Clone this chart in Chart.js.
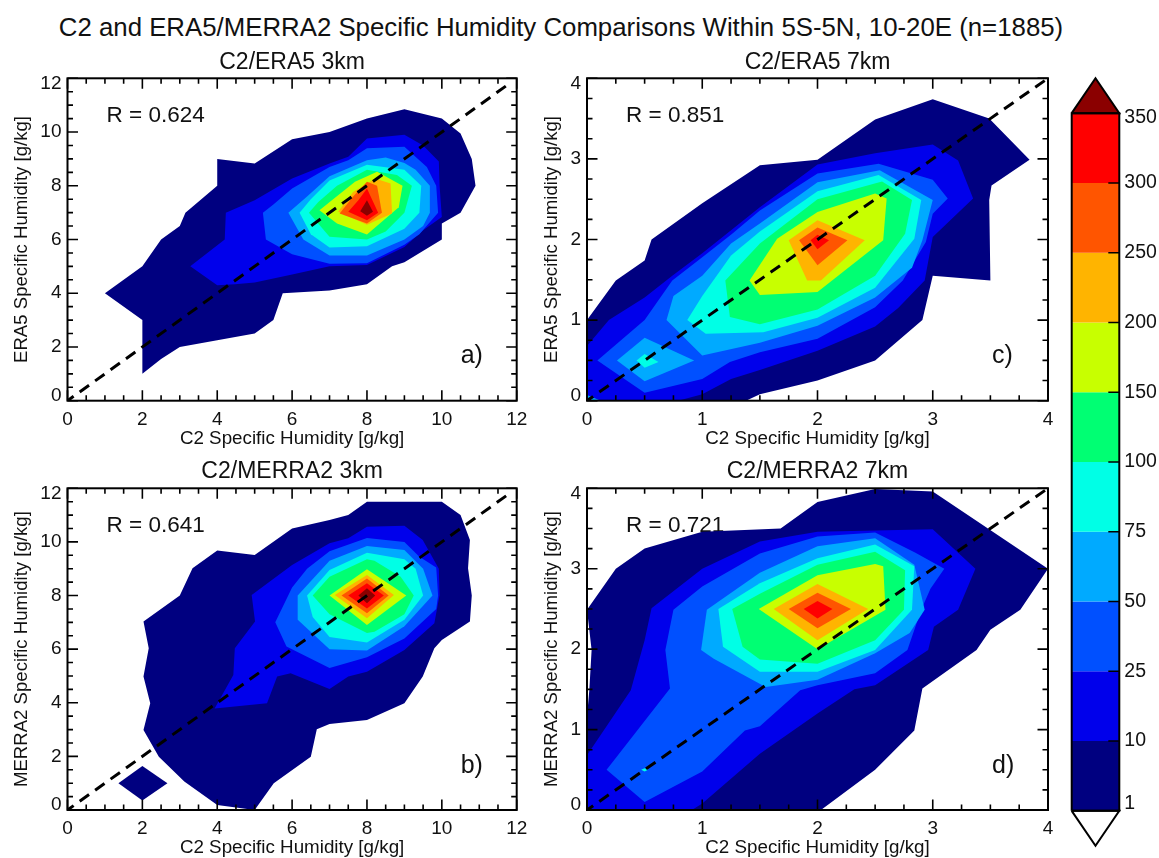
<!DOCTYPE html>
<html><head><meta charset="utf-8">
<style>
html,body{margin:0;padding:0;background:#fff;width:1159px;height:858px;overflow:hidden}
canvas{position:absolute;filter:blur(0.4px)}
#main{position:absolute;left:0;top:13px;width:1122px;text-align:center;font:25.8px "Liberation Sans",sans-serif;color:#111;white-space:nowrap}
</style>
<script src="https://cdn.jsdelivr.net/npm/chart.js@4/dist/chart.umd.min.js"></script>
</head><body>
<div id="main">C2 and ERA5/MERRA2 Specific Humidity Comparisons Within 5S-5N, 10-20E (n=1885)</div>
<canvas id="pa" width="530" height="400" style="left:0;top:50px"></canvas>
<canvas id="pc" width="530" height="400" style="left:530px;top:50px"></canvas>
<canvas id="pb" width="530" height="400" style="left:0;top:460px"></canvas>
<canvas id="pd" width="530" height="400" style="left:530px;top:460px"></canvas>
<canvas id="cb" width="99" height="798" style="left:1060px;top:60px"></canvas>
<script>
// ---------- legend levels ----------
const levels = [1,10,25,50,75,100,150,200,250,300,350];
const levelColors = ['#000080','#0000eb','#0050ff','#00aaff','#00ffe6','#00ff73','#c8ff00','#ffb400','#ff5500','#ff0000','#8b0000'];

// ---------- panel a: C2/ERA5 3km (contour outlines, g/kg) ----------
const a1=[[1,4],[2,5],[2.5,6],[3,6.5],[3.15,7],[4,8],[4,9],[5,8.83],[6,9.73],[7,10],[8,10.5],[9,10.85],[10,10.5],[10.5,9.95],[10.8,9],[10.9,8],[10.5,7],[10,6.6],[10,6],[9,5.15],[8.67,5],[8,4.33],[7,4.1],[5.75,4],[5.5,3],[5,2.5],[4,2.25],[3,2],[2.5,1.55],[2,1],[2,3]];
const a2=[[3.28,5],[4.2,6],[4.23,7],[5,7.46],[6,8.27],[7,8.83],[7.5,9.08],[8,9.76],[9,9.9],[9.5,9.5],[9.92,8.9],[9.94,8],[10,6.84],[9.5,6.34],[9,5.72],[8,5.05],[7,5],[6,4.7],[5,4.4],[4.47,4.33],[4,4.3]];
const a3=[[5.22,7],[5.3,6],[6,5.45],[7,5.1],[8,5.12],[9,5.8],[9.4,6.2],[9.9,7],[9.85,8],[9.6,8.7],[9,9.45],[8,9.4],[7.5,8.95],[7,8.7],[6,7.9],[5.5,7.3]];
const a4=[[5.9,7],[6.3,6],[7,5.4],[8,5.4],[9,6],[9.5,6.5],[9.68,7],[9.68,8],[9.3,8.6],[9,8.85],[8.5,9.05],[8,8.95],[7,8.35],[6.4,7.6]];
const a5=[[6.2,7],[6.5,6.2],[7,5.7],[8,5.75],[9,6.4],[9.4,7],[9.45,8],[9,8.6],[8,8.78],[7,8.2],[6.5,7.5]];
const a6=[[6.45,7],[7,6.1],[8,6.0],[8.5,6.3],[9,7],[9.2,8],[8.8,8.4],[8,8.6],[7.2,8],[6.7,7.4]];
const a7=[[6.73,7.09],[7.2,6.6],[8,6.19],[8.85,7.2],[8.95,8],[8.27,8.52],[7.68,8.15]];
const a8=[[7.23,7.03],[8,6.55],[8.67,6.97],[8.63,8.08],[8.22,8.27],[7.63,7.77]];
const a9=[[7.27,6.97],[8,6.6],[8.4,7],[8.27,8],[8,8.15],[7.63,7.6]];
const a10=[[7.5,7.03],[8,6.72],[8.3,7],[8,7.9],[7.77,7.46]];
const a11=[[7.82,7.05],[8,6.88],[8.16,7.03],[8,7.46]];

// ---------- panel b: C2/MERRA2 3km ----------
const b1=[[2.03,7.03],[3,8],[3.34,9.02],[4,9.68],[5,9.51],[6,10.5],[7,10.82],[7.5,11],[8,11.5],[10,11.5],[10.5,11],[10.75,10.07],[10.7,9.02],[10.8,8],[10.75,7.03],[10,6.34],[9.8,6.03],[9.49,4.98],[9,3.98],[8,3.36],[7,3.21],[6.66,3.01],[6.5,1.99],[5.51,1],[5,0],[4,0.19],[3.12,1.06],[2.44,1.99],[2.03,2.98],[2.21,3.98],[2.03,4.98],[2.17,6.03]];
const b1b=[[1.36,1],[2,1.64],[2.67,1],[2,0.35]];
const b2=[[3.93,3.79],[5.33,3.98],[5.6,4.98],[5.96,5.1],[7,4.51],[7.5,4.98],[8,5.16],[9,5.97],[9.8,6.97],[9.94,8.02],[9.92,9],[9.49,10.07],[9,10.6],[8,10.57],[7.5,10.14],[7,9.95],[6,9.14],[4.92,8.02],[5.01,7.03],[4.47,6.03],[4.43,5.04]];
const b3=[[5.55,7],[5.85,6.1],[7,5.3],[8,5.7],[9,6.4],[9.85,7.5],[9.9,8],[9.85,9.05],[9.4,9.45],[9,10],[8,10.15],[7,9.65],[6.4,9],[6,8.3]];
const b4=[[6.15,8],[6.15,7.1],[7,6],[8,5.95],[9,6.85],[9.75,8],[9.5,9],[9,9.7],[8,9.85],[7,9.3]];
const b5=[[6.4,8],[6.55,7.2],[7,6.45],[8,6.25],[9,7.1],[9.5,8],[9.3,9],[9,9.35],[8,9.6],[7,8.95]];
const b6=[[6.55,8],[7,7.3],[8,6.6],[8.2,6.65],[9,7.3],[9.25,8],[8.9,8.7],[8.2,9.3],[8,9.35],[7,8.7]];
const b7=[[7,8],[8,8.98],[9.05,8],[8,6.9]];
const b8=[[7.14,8.02],[8,8.77],[8.72,8.02],[8,7.15]];
const b9=[[7.32,8],[8,8.64],[8.58,8],[8,7.34]];
const b10=[[7.5,8],[8,8.46],[8.45,8],[8,7.52]];
const b11=[[7.77,8],[8,8.27],[8.22,8],[8,7.71]];

// ---------- panel c: C2/ERA5 7km ----------
const c1=[[0,1],[0.25,1.49],[0.5,1.74],[0.56,2],[1,2.45],[1.5,2.92],[2,2.99],[2.5,3.49],[3,3.74],[3.49,3.5],[3.84,2.99],[3.51,2.67],[3.49,2.49],[3.5,1.49],[3,1.55],[2.91,1],[2.5,0.5],[2,0.25],[1.5,0.08],[1.38,0],[0,0]];
const c2=[[0,0.68],[0.19,1],[0.5,1.28],[0.74,1.55],[1,1.83],[1.5,2.4],[2,2.93],[2.5,3.07],[3,3.18],[3.22,2.98],[3.35,2.51],[3,2.03],[2.93,1.49],[2.7,1.15],[2.5,0.92],[2,0.62],[1.5,0.38],[1.25,0.27],[1,0.08],[0.79,0],[0,0]];
const c3=[[0.09,0.5],[0.5,1],[0.74,1.49],[1,1.78],[1.26,2.07],[1.5,2.36],[2,2.82],[2.53,2.94],[3,2.74],[3.13,2.51],[3,2.32],[2.94,1.97],[2.74,1.49],[2.5,1.16],[2,0.77],[1.5,0.6],[1.24,0.48],[1,0.27],[0.5,0.1]];
const c3b=[[0,0],[0,0.07],[0.12,0]];
const c4=[[0.69,1],[1,0.56],[1.5,0.72],[2,0.93],[2.5,1.28],[2.82,1.65],[2.91,1.99],[3,2.49],[2.54,2.86],[2,2.71],[1.5,2.2],[1.25,1.95],[1,1.55],[0.75,1.3]];
const c4b=[[0.26,0.5],[0.5,0.78],[0.93,0.5],[0.5,0.24]];
const c5=[[0.87,1],[1.03,0.83],[1.53,0.85],[2,1.03],[2.5,1.4],[2.84,2.01],[2.9,2.49],[2.53,2.8],[2,2.6],[1.5,2.1],[1.25,1.8],[1,1.3]];
const c5b=[[0.43,0.5],[0.5,0.58],[0.62,0.48],[0.5,0.41]];
const c6=[[1.2,1.49],[1.24,1.04],[1.5,0.95],[2,1.13],[2.5,1.55],[2.76,2.07],[2.82,2.49],[2.56,2.72],[2,2.5],[1.5,1.95]];
const c7=[[1.41,1.49],[1.5,1.31],[2,1.35],[2.57,1.99],[2.6,2.51],[2.5,2.57],[2,2.34],[1.65,2.01]];
const c8=[[1.75,1.99],[1.91,1.49],[2.03,1.49],[2.41,1.99],[2,2.24]];
const c9=[[1.84,1.99],[2,1.68],[2.26,1.99],[2,2.15]];
const c10=[[1.94,1.99],[2,1.88],[2.1,1.99],[2,2.06]];

// ---------- panel d: C2/MERRA2 7km ----------
const d1=[[0,2.49],[0.25,3],[0.5,3.25],[1,3.46],[1.68,3.5],[2,3.83],[2.5,3.99],[3,3.96],[4,3],[3.76,2.49],[3.5,2.24],[3.38,1.99],[2.91,1.51],[2.84,0.99],[2.5,0.5],[2.03,0],[0,0],[0,1.16],[0.02,1.49],[0.04,1.99]];
const d2=[[0,0.68],[0.38,1.49],[0.5,2.11],[0.56,2.51],[1,3],[1.5,3.34],[2,3.46],[3,3.49],[3.37,3],[3.22,2.49],[3.01,2.28],[2.96,1.99],[2.5,1.55],[2.32,1.5],[2,1.2],[1.5,0.7],[1,0.08],[0.91,0],[0,0]];
const d3=[[0.17,0.5],[0.72,1.51],[0.68,1.99],[0.75,2.49],[1,2.78],[1.5,3.19],[2,3.4],[2.5,3.45],[2.85,3.2],[3.1,3],[2.98,2.75],[2.9,2.49],[2.78,1.99],[2.5,1.7],[2,1.55],[1.85,1.49],[1.5,1.04],[1.37,0.99],[1,0.48],[0.5,0.1]];
const d4=[[0.99,1.99],[1.04,2.49],[1.5,2.95],[2,3.28],[2.5,3.38],[2.84,3.05],[2.93,2.49],[2.8,2.2],[2.5,1.95],[2,1.62],[1.55,1.53],[1.1,1.88]];
const d5=[[1.14,2.5],[1.18,2.03],[1.5,1.72],[2,1.72],[2.5,1.99],[2.82,2.49],[2.84,3.03],[2.5,3.3],[2,3.13],[1.5,2.82]];
const d5b=[[0.47,0.5],[0.5,0.52],[0.53,0.5],[0.5,0.48]];
const d6=[[1.26,2.5],[1.35,2.03],[1.5,1.87],[2,1.82],[2.5,2.11],[2.75,2.49],[2.76,2.98],[2.5,3.21],[2,3.05],[1.5,2.69]];
const d7=[[1.49,2.5],[2,2],[2.59,2.49],[2.57,3.03],[2.5,3.06],[2,2.92]];
const d8=[[1.62,2.5],[2,2.11],[2.44,2.5],[2,2.81]];
const d9=[[1.75,2.5],[2,2.26],[2.29,2.5],[2,2.7]];
const d10=[[1.88,2.5],[2,2.38],[2.13,2.5],[2,2.6]];

// ---------- axis values ----------
const ticks3km=[0,2,4,6,8,10,12];
const ticks7km=[0,1,2,3,4];
const diagonal3km=[[0,0],[11.75,11.75]];
const diagonal7km=[[0,0],[4,4]];

const FONT='"Liberation Sans", sans-serif';
const INK='#111';

// fills each closed contour outline using the points the scales have placed
const contourFill={id:'contourFill',beforeDatasetDraw(chart,args){
  const ds=chart.data.datasets[args.index];
  if(!ds.fillColor)return;
  const c=chart.ctx,p=args.meta.data;
  c.save();c.beginPath();
  p.forEach((e,i)=>i?c.lineTo(e.x,e.y):c.moveTo(e.x,e.y));
  c.closePath();c.fillStyle=ds.fillColor;c.fill();c.restore();
}};

// IDL-style frame with inward major and minor ticks, and the panel annotations
const panelDecor={id:'panelDecor',
 beforeDatasetsDraw(chart,_,o){
  if(!o.rText)return;
  const c=chart.ctx,a=chart.chartArea;
  c.save();c.fillStyle=INK;c.textBaseline='alphabetic';c.textAlign='left';
  c.font='22.5px '+FONT;c.fillText(o.rText,a.left+39,a.top+44);c.restore();
 },
 afterDraw(chart,_,o){
  if(!o.major)return;
  const c=chart.ctx,a=chart.chartArea,sx=chart.scales.x,sy=chart.scales.y;
  c.save();c.strokeStyle='#000';
  const mk=(list,len)=>{c.beginPath();
   list.forEach(v=>{const X=sx.getPixelForValue(v),Y=sy.getPixelForValue(v);
    c.moveTo(X,a.bottom);c.lineTo(X,a.bottom-len);c.moveTo(X,a.top);c.lineTo(X,a.top+len);
    c.moveTo(a.left,Y);c.lineTo(a.left+len,Y);c.moveTo(a.right,Y);c.lineTo(a.right-len,Y);});
   c.stroke();};
  c.lineWidth=1.6;mk(o.major,10.5);
  const minors=[];for(let k=0;k<=o.minorCount;k++)minors.push(k*o.minorStep);
  mk(minors.filter(v=>!o.major.includes(v)),5.5);
  c.lineWidth=2;c.strokeRect(a.left,a.top,a.right-a.left,a.bottom-a.top);
  c.fillStyle=INK;c.textAlign='left';c.textBaseline='alphabetic';c.font='25px '+FONT;
  c.fillText(o.tag,a.right-56,a.top+285);
  c.restore();
 }};

function panel(id,title,yTitle,groups,diag,tickVals,o){
  const max=tickVals[tickVals.length-1];
  const datasets=[];
  groups.forEach((g,i)=>datasets.push({data:g[0].map(p=>({x:p[0],y:p[1]})),showLine:true,borderWidth:0,pointRadius:0,fillColor:levelColors[g[1]],order:1000-i}));
  datasets.push({data:diag.map(p=>({x:p[0],y:p[1]})),showLine:true,borderColor:'#000',borderWidth:3,borderDash:[11.5,7.5],borderDashOffset:4,pointRadius:0,order:0});
  const shift=max*5/321.5;
  new Chart(document.getElementById(id),{type:'scatter',plugins:[contourFill,panelDecor],data:{datasets},options:{
    responsive:false,animation:false,events:[],
    layout:{padding:{left:0,right:o.rightPad,top:0,bottom:0}},
    plugins:{legend:{display:false},tooltip:{enabled:false},
      title:{display:true,text:title,fullSize:false,color:INK,font:{family:FONT,size:23,weight:'normal',lineHeight:1.05},padding:{top:o.titleTop,bottom:28.3-24.15-o.titleTop}},
      panelDecor:{rText:o.r,tag:o.tag,major:tickVals,minorStep:max===12?0.5:0.25,minorCount:max===12?24:16}},
    scales:{
      x:{type:'linear',min:0,max,grid:{display:false,drawTicks:false},border:{display:false},
         ticks:{autoSkip:false,maxRotation:0,color:INK,font:{family:FONT,size:19},padding:7.5},
         afterBuildTicks:s=>{s.ticks=tickVals.map(v=>({value:v}));},
         afterFit:s=>{s.height=o.xHeight;s.paddingLeft=0;s.paddingRight=0;},
         title:{display:true,text:'C2 Specific Humidity [g/kg]',color:INK,font:{family:FONT,size:18.8,lineHeight:1.1},padding:{top:0,bottom:o.xTitleBottom}}},
      y:{type:'linear',min:0,max,grid:{display:false,drawTicks:false},border:{display:false},
         ticks:{autoSkip:false,color:INK,font:{family:FONT,size:19},padding:6,callback:v=>String(tickVals.reduce((b,t)=>Math.abs(t-v)<Math.abs(b-v)?t:b,0))},
         afterBuildTicks:s=>{s.ticks=tickVals.map(v=>({value:v===0?shift:v===max?max-shift:v}));},
         afterFit:s=>{s.width=o.yWidth;s.paddingTop=0;s.paddingBottom=0;},
         title:{display:true,text:yTitle,color:INK,font:{family:FONT,size:18.6,lineHeight:1.1},padding:{top:12,bottom:0}}}
    }}});
}

panel('pa','C2/ERA5 3km','ERA5 Specific Humidity [g/kg]',
 [[a1,0],[a2,1],[a3,2],[a4,3],[a5,4],[a6,5],[a7,6],[a8,7],[a9,8],[a10,9],[a11,10]],diagonal3km,ticks3km,
 {r:'R = 0.624',tag:'a)',titleTop:1,xTitleBottom:1,yWidth:67.5,rightPad:13.3,xHeight:49.3});
panel('pb','C2/MERRA2 3km','MERRA2 Specific Humidity [g/kg]',
 [[b1,0],[b1b,0],[b2,1],[b3,2],[b4,3],[b5,4],[b6,5],[b7,6],[b8,7],[b9,8],[b10,9],[b11,10]],diagonal3km,ticks3km,
 {r:'R = 0.641',tag:'b)',titleTop:0,xTitleBottom:2,yWidth:67.5,rightPad:13.3,xHeight:50});
panel('pc','C2/ERA5 7km','ERA5 Specific Humidity [g/kg]',
 [[c1,0],[c2,1],[c3,2],[c3b,3],[c4,3],[c4b,3],[c5,4],[c5b,4],[c6,5],[c7,6],[c8,7],[c9,8],[c10,9]],diagonal7km,ticks7km,
 {r:'R = 0.851',tag:'c)',titleTop:1,xTitleBottom:1,yWidth:57,rightPad:12,xHeight:49.3});
panel('pd','C2/MERRA2 7km','MERRA2 Specific Humidity [g/kg]',
 [[d1,0],[d2,1],[d3,2],[d4,3],[d5,4],[d5b,4],[d6,5],[d7,6],[d8,7],[d9,8],[d10,9]],diagonal7km,ticks7km,
 {r:'R = 0.721',tag:'d)',titleTop:0,xTitleBottom:2,yWidth:57,rightPad:12,xHeight:50});

// ---------- colour bar ----------
const cbDatasets=[];
levels.slice(0,-1).forEach((v,i)=>cbDatasets.push({data:[{x:-.5,y:i},{x:.5,y:i},{x:.5,y:i+1},{x:-.5,y:i+1}],showLine:true,borderWidth:0,pointRadius:0,fillColor:levelColors[i],order:50-i}));
const cbTop=levels.length-1;
cbDatasets.push({data:[{x:-.5,y:cbTop},{x:.5,y:cbTop},{x:0,y:cbTop+.5},{x:-.5,y:cbTop}],showLine:true,borderColor:'#000',borderWidth:2,pointRadius:0,fillColor:levelColors[10],clip:false,order:2});
cbDatasets.push({data:[{x:-.5,y:0},{x:.5,y:0},{x:0,y:-.5},{x:-.5,y:0}],showLine:true,borderColor:'#000',borderWidth:2,pointRadius:0,fillColor:'#ffffff',clip:false,order:2});
cbDatasets.push({data:[{x:-.5,y:0},{x:-.5,y:cbTop},{x:.5,y:cbTop},{x:.5,y:0},{x:-.5,y:0}],showLine:true,borderColor:'#000',borderWidth:2,pointRadius:0,clip:false,order:1});
const cbTicks={id:'cbTicks',afterDraw(chart){
  const c=chart.ctx,a=chart.chartArea,sy=chart.scales.y;
  c.save();c.strokeStyle='#000';c.lineWidth=1.6;c.beginPath();
  levels.forEach((_,i)=>{if(i===0||i===cbTop)return;const Y=sy.getPixelForValue(i);c.moveTo(a.right,Y);c.lineTo(a.right-11,Y);});
  c.stroke();c.restore();
}};
new Chart(document.getElementById('cb'),{type:'scatter',plugins:[contourFill,cbTicks],data:{datasets:cbDatasets},options:{
  responsive:false,animation:false,events:[],
  layout:{padding:{left:11.7,right:0,top:18.3,bottom:12.3}},
  plugins:{legend:{display:false},tooltip:{enabled:false}},
  scales:{
    x:{type:'linear',min:-.5,max:.5,display:false},
    y:{type:'linear',position:'right',min:-.5,max:cbTop+.5,grid:{display:false,drawTicks:false},border:{display:false},
      ticks:{autoSkip:false,color:INK,font:{family:FONT,size:19.5},padding:5,callback:v=>String(levels[Math.round(v)])},
      afterBuildTicks:s=>{s.ticks=levels.map((_,i)=>({value:i===0?i+.1:i===cbTop?i-.07:i}));},
      afterFit:s=>{s.width=39.7;s.paddingTop=0;s.paddingBottom=0;}}
  }}});
</script>
</body></html>
